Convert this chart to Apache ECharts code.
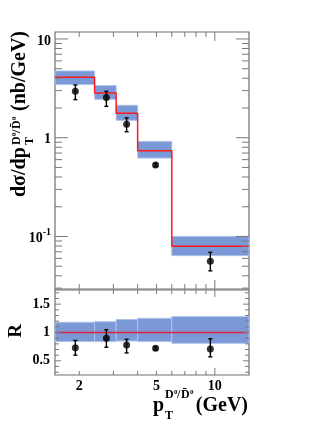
<!DOCTYPE html>
<html><head><meta charset="utf-8">
<script src="https://cdn.jsdelivr.net/npm/echarts@6/dist/echarts.min.js"></script>
<style>html,body{margin:0;padding:0;background:#fff}#c{width:332px;height:430px}</style>
</head><body><div id="c"></div>
<script>
// ---- data ----
const binEdges   = [1.5, 2.4, 3.1, 4.0, 6.0, 15];
const theory     = [4.09, 2.84, 1.77, 0.74, 0.0796];
const theoryLo   = [3.45, 2.45, 1.50, 0.623, 0.064];
const theoryHi   = [4.74, 3.37, 2.13, 0.918, 0.1003];
const dataX      = [1.91, 2.76, 3.51, 4.95, 9.48];
const dataY      = [2.95, 2.55, 1.37, 0.53, 0.0562];
const dataErrLo  = [2.43, 2.08, 1.15, 0.51, 0.0449];
const dataErrHi  = [3.42, 2.95, 1.59, 0.55, 0.0692];
const ratioBandLo = [0.84, 0.84, 0.85, 0.84, 0.81];
const ratioBandHi = [1.18, 1.19, 1.23, 1.25, 1.28];
const ratioY      = [0.73, 0.90, 0.78, 0.72, 0.71];
const ratioErrLo  = [0.60, 0.74, 0.64, 0.69, 0.57];
const ratioErrHi  = [0.86, 1.05, 0.88, 0.75, 0.89];
// ---- ticks ----
const xTickVals   = [2, 3, 4, 5, 6, 7, 8, 9, 10];
const xMajorTicks = [10];
const xLabelVals  = [2, 5, 10];
const yTopMinor   = [0.03, 0.04, 0.05, 0.06, 0.07, 0.08, 0.09, 0.2, 0.3, 0.4, 0.5, 0.6, 0.7, 0.8, 0.9, 2, 3, 4, 5, 6, 7, 8, 9];
const yTopMajor   = [0.1, 1, 10];
const yTopLabelVals = [0.1, 1, 10];
const yTopLabelText = ['{b|10}{s|-1}', '{b|1}', '{b|10}'];
const yBotMinor   = [0.3, 0.4, 0.6, 0.7, 0.8, 0.9, 1.1, 1.2, 1.3, 1.4, 1.6, 1.7];
const yBotMajor   = [0.5, 1, 1.5];
const yBotLabelVals = [0.5, 1, 1.5];

const FF = "'Liberation Serif','DejaVu Serif',serif";
const BAND = '#7a99d6', BANDEDGE = '#aec2ea', RED = '#ff1a1a', TICK = '#7a7a7a';

const chart = echarts.init(document.getElementById('c'), null, {renderer: 'canvas'});

const bandData = (lo, hi) => lo.map((v, i) => [binEdges[i], binEdges[i + 1], v, hi[i]]);
const stepData = theory.map((v, i) => [binEdges[i], v]).concat([[binEdges[binEdges.length - 1], theory[theory.length - 1]]]);
const errData = (y, lo, hi) => dataX.map((x, i) => [x, y[i], lo[i], hi[i]]);

function bandSeries(xi, yi, data) {
  return {
    type: 'custom', xAxisIndex: xi, yAxisIndex: yi, z: 1, data,
    encode: {x: [0, 1], y: [2, 3]},
    renderItem(p, api) {
      const a = api.coord([api.value(0), api.value(2)]);
      const b = api.coord([api.value(1), api.value(3)]);
      return {type: 'rect', shape: {x: a[0], y: b[1], width: b[0] - a[0], height: a[1] - b[1]},
        style: {fill: BAND, stroke: BANDEDGE, lineWidth: 1}};
    }
  };
}
function errSeries(xi, yi, data) {
  return {
    type: 'custom', xAxisIndex: xi, yAxisIndex: yi, z: 3, data,
    encode: {x: 0, y: [1, 2, 3]},
    renderItem(p, api) {
      const lo = api.coord([api.value(0), api.value(2)]);
      const hi = api.coord([api.value(0), api.value(3)]);
      const st = {stroke: '#000', lineWidth: 1.4};
      return {type: 'group', children: [
        {type: 'line', shape: {x1: lo[0], y1: lo[1], x2: hi[0], y2: hi[1]}, style: st},
        {type: 'line', shape: {x1: lo[0] - 2, y1: lo[1], x2: lo[0] + 2, y2: lo[1]}, style: st},
        {type: 'line', shape: {x1: hi[0] - 2, y1: hi[1], x2: hi[0] + 2, y2: hi[1]}, style: st}
      ]};
    }
  };
}
function xTickSeries(xi, yi, yRef, minorLen, majorLen) {
  return {
    type: 'custom', xAxisIndex: xi, yAxisIndex: yi, z: 6, silent: true,
    data: xTickVals.map(v => [v, yRef, xMajorTicks.includes(v) ? majorLen : minorLen]),
    encode: {x: 0, y: 1},
    renderItem(p, api) {
      const cs = p.coordSys;
      const px = api.coord([api.value(0), api.value(1)])[0];
      const L = api.value(2);
      const st = {stroke: TICK, lineWidth: 1};
      return {type: 'group', children: [
        {type: 'line', shape: {x1: px, y1: cs.y, x2: px, y2: cs.y + L}, style: st},
        {type: 'line', shape: {x1: px, y1: cs.y + cs.height, x2: px, y2: cs.y + cs.height - L}, style: st}
      ]};
    }
  };
}
function yTickSeries(xi, yi, minor, major, minorLen, majorLen) {
  const d = minor.map(v => [2, v, minorLen]).concat(major.map(v => [2, v, majorLen]));
  return {
    type: 'custom', xAxisIndex: xi, yAxisIndex: yi, z: 6, silent: true, data: d,
    encode: {x: 0, y: 1},
    renderItem(p, api) {
      const cs = p.coordSys;
      const py = api.coord([api.value(0), api.value(1)])[1];
      const L = api.value(2);
      const st = {stroke: TICK, lineWidth: 1};
      return {type: 'group', children: [
        {type: 'line', shape: {x1: cs.x, y1: py, x2: cs.x + L, y2: py}, style: st},
        {type: 'line', shape: {x1: cs.x + cs.width, y1: py, x2: cs.x + cs.width - L, y2: py}, style: st}
      ]};
    }
  };
}

function t(str, x, baseline, size, align) {
  return {type: 'text', x: x, y: baseline - 0.34 * size,
    style: {text: str, font: 'bold ' + size + 'px ' + FF, fill: '#000',
      textAlign: align || 'left', align: align || 'left', textVerticalAlign: 'middle', verticalAlign: 'middle'}};
}

const labelStyle = {color: '#000', fontFamily: FF, fontWeight: 'bold', fontSize: 14};

const option = {
  animation: false,
  backgroundColor: '#fff',
  grid: [
    {left: 55, top: 32, width: 194, height: 257, show: true, borderColor: '#6e6e6e', borderWidth: 1.2, backgroundColor: 'transparent', outerBoundsMode: 'none'},
    {left: 55, top: 290, width: 194, height: 85, show: true, borderColor: '#6e6e6e', borderWidth: 1.2, backgroundColor: 'transparent', outerBoundsMode: 'none'}
  ],
  xAxis: [
    {type: 'log', logBase: 10, gridIndex: 0, min: 1.5, max: 15, axisLine: {show: false}, axisTick: {show: false}, axisLabel: {show: false}, splitLine: {show: false}},
    {type: 'log', logBase: 10, gridIndex: 1, min: 1.5, max: 15, axisLine: {show: false}, axisTick: {show: false}, splitLine: {show: false},
      axisLabel: Object.assign({customValues: xLabelVals, margin: 4, formatter: v => String(v)}, labelStyle)}
  ],
  yAxis: [
    {type: 'log', logBase: 10, gridIndex: 0, min: 0.0294, max: 11.76, axisLine: {show: false}, axisTick: {show: false}, splitLine: {show: false},
      axisLabel: {customValues: yTopLabelVals, margin: 4, formatter: v => yTopLabelText[yTopLabelVals.indexOf(v)],
        rich: {b: {fontFamily: FF, fontWeight: 'bold', fontSize: 14, color: '#000', lineHeight: 18, verticalAlign: 'bottom'},
               s: {fontFamily: FF, fontWeight: 'bold', fontSize: 10, color: '#000', lineHeight: 10, verticalAlign: 'top'}}}},
    {type: 'value', gridIndex: 1, min: 0.25, max: 1.75, axisLine: {show: false}, axisTick: {show: false}, splitLine: {show: false},
      axisLabel: Object.assign({customValues: yBotLabelVals, margin: 5, formatter: v => String(v)}, labelStyle)}
  ],
  series: [
    bandSeries(0, 0, bandData(theoryLo, theoryHi)),
    {type: 'line', xAxisIndex: 0, yAxisIndex: 0, z: 2, step: 'end', symbol: 'none', data: stepData,
      lineStyle: {color: RED, width: 1.5}},
    errSeries(0, 0, errData(dataY, dataErrLo, dataErrHi)),
    {type: 'scatter', xAxisIndex: 0, yAxisIndex: 0, z: 4, symbol: 'circle', symbolSize: 7,
      itemStyle: {color: '#000'}, data: dataX.map((x, i) => [x, dataY[i]])},
    bandSeries(1, 1, bandData(ratioBandLo, ratioBandHi)),
    {type: 'line', xAxisIndex: 1, yAxisIndex: 1, z: 2, symbol: 'none',
      data: [[binEdges[0], 1], [binEdges[binEdges.length - 1], 1]], lineStyle: {color: '#e0203c', width: 1.5}},
    errSeries(1, 1, errData(ratioY, ratioErrLo, ratioErrHi)),
    {type: 'scatter', xAxisIndex: 1, yAxisIndex: 1, z: 4, symbol: 'circle', symbolSize: 7,
      itemStyle: {color: '#000'}, data: dataX.map((x, i) => [x, ratioY[i]])},
    xTickSeries(0, 0, 1, 5, 9),
    yTickSeries(0, 0, yTopMinor, yTopMajor, 7, 13),
    xTickSeries(1, 1, 1, 4, 7),
    yTickSeries(1, 1, yBotMinor, yBotMajor, 4, 6)
  ],
  graphic: [
    {type: 'group', x: 27, y: 197, rotation: Math.PI / 2, children: [
      t('d\u03c3/dp', 0, 0, 20),
      t('D', 52, -6, 12), t('0', 61, -10, 7),
      t('/', 64, -6, 12),
      t('D\u0304', 68, -6, 12), t('0', 77, -10, 7),
      t('T', 52, 7, 12),
      t('(nb/GeV)', 86, 0, 20)
    ]},
    {type: 'group', x: 23, y: 331, rotation: Math.PI / 2, children: [t('R', 0, 0, 19, 'center')]},
    {type: 'group', x: 0, y: 0, children: [
      t('p', 153, 413, 20),
      t('D', 165, 399, 12), t('0', 174, 395, 7),
      t('/', 177, 399, 12),
      t('D\u0304', 181, 399, 12), t('0', 190, 395, 7),
      t('T', 165, 420, 12),
      t('(GeV)', 248, 413, 20, 'right')
    ]}
  ]
};
chart.setOption(option);
</script></body></html>
